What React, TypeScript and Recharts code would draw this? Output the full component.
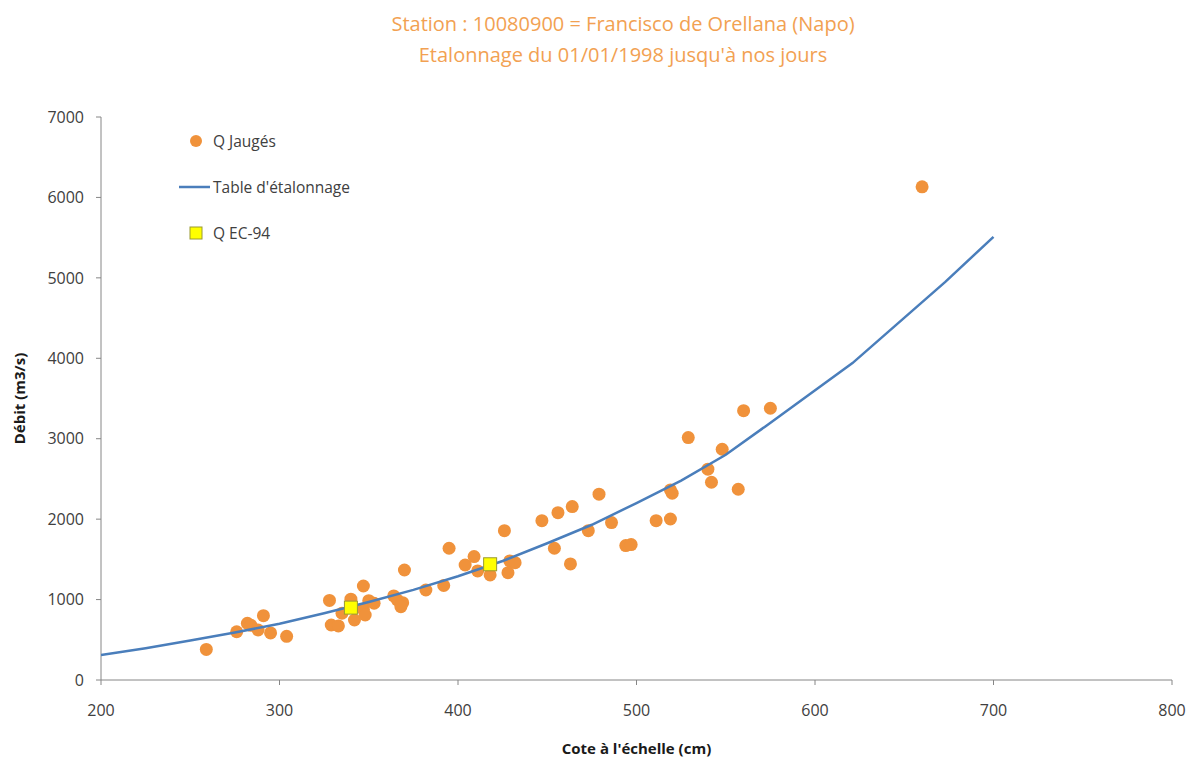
import React from "react";
import {
  ScatterChart,
  Scatter,
  XAxis,
  YAxis,
} from "recharts";

// Q jaugés : cote (cm) / débit (m3/s)
const gaugedCote = [
  259, 276, 282, 284, 288, 291, 295, 304, 328, 329, 333, 335, 340, 342, 347, 348,
  347, 350, 353, 364, 366, 369, 368, 370, 382, 392, 395, 404, 409, 411, 418, 426,
  429, 432, 428, 447, 456, 464, 454, 463, 473, 479, 486, 494, 497, 511, 519, 519,
  520, 529, 540, 542, 548, 557, 560, 575, 660,
];
const gaugedDebit = [
  380, 600, 705, 680, 622, 800, 585, 543, 990, 684, 672, 830, 1005, 746, 879, 808,
  1169, 986, 954, 1045, 995, 961, 912, 1368, 1119, 1175, 1638, 1430, 1534, 1356, 1306, 1857,
  1480, 1459, 1335, 1981, 2081, 2156, 1638, 1443, 1857, 2310, 1957, 1671, 1684, 1981, 2002, 2363,
  2322, 3014, 2621, 2459, 2869, 2372, 3349, 3379, 6132,
];

// Table d'étalonnage
const tableCote = [200, 225, 250, 275, 300, 325, 350, 375, 400, 425, 450, 475, 500, 525, 550, 572, 621, 673, 700];
const tableDebit = [310, 395, 490, 590, 700, 830, 970, 1120, 1290, 1480, 1700, 1930, 2200, 2480, 2800, 3150, 3940, 4950, 5510];

// Q EC-94
const ecCote = [340, 418];
const ecDebit = [900, 1439];

const xTicks = [200, 300, 400, 500, 600, 700, 800];
const yTicks = [0, 1000, 2000, 3000, 4000, 5000, 6000, 7000];

const gauged = gaugedCote.map((x, i) => ({ x, y: gaugedDebit[i] }));
const table = tableCote.map((x, i) => ({ x, y: tableDebit[i] }));
const ec94 = ecCote.map((x, i) => ({ x, y: ecDebit[i] }));

const FONT = "'Open Sans', sans-serif";
const ORANGE = "#F0923B";
const BLUE = "#4A7EBB";
const TEXT = "#404040";

const Square = (props: any) => {
  const { cx, cy } = props;
  if (cx == null || cy == null) return <g />;
  return (
    <rect x={cx - 6.5} y={cy - 6.5} width={13} height={13} fill="#FFFF00" stroke="#9A9A30" strokeWidth={1} />
  );
};

// legend drawn as an overlay so it does not shift the plot area
const LegendBox = () => (
  <div style={{ position: "absolute", left: 175, top: 118, fontFamily: FONT, fontSize: 15.5, color: TEXT }}>
    <div style={{ display: "flex", alignItems: "center", height: 46 }}>
      <svg width={38} height={14}>
        <circle cx={21} cy={7} r={6} fill={ORANGE} />
      </svg>
      <span>Q Jaugés</span>
    </div>
    <div style={{ display: "flex", alignItems: "center", height: 46 }}>
      <svg width={38} height={14}>
        <line x1={4} y1={7} x2={35} y2={7} stroke={BLUE} strokeWidth={2.5} />
      </svg>
      <span>Table d'étalonnage</span>
    </div>
    <div style={{ display: "flex", alignItems: "center", height: 46 }}>
      <svg width={38} height={14}>
        <rect x={15} y={1} width={12} height={12} fill="#FFFF00" stroke="#9A9A30" />
      </svg>
      <span>Q EC-94</span>
    </div>
  </div>
);

export default function App() {
  return (
    <div style={{ position: "absolute", left: 0, top: 0, width: 1189, height: 758, background: "#fff" }}>
      <div
        style={{
          position: "absolute",
          left: 0,
          width: 1246,
          top: 8,
          textAlign: "center",
          fontFamily: FONT,
          fontSize: 20,
          lineHeight: "31px",
          color: "#F2A152",
        }}
      >
        <div>Station : 10080900 = Francisco de Orellana (Napo)</div>
        <div>Etalonnage du 01/01/1998 jusqu'à nos jours</div>
      </div>
      <ScatterChart
        width={1189}
        height={758}
        margin={{ top: 117, right: 17, bottom: 4, left: 20 }}
        style={{ fontFamily: FONT }}
      >
        <XAxis
          type="number"
          dataKey="x"
          domain={[200, 800]}
          ticks={xTicks}
          allowDataOverflow
          height={74}
          stroke="#868686"
          tickSize={5}
          tickMargin={20}
          tick={{ fill: TEXT, fontSize: 16 }}
          label={{
            value: "Cote à l'échelle (cm)",
            position: "insideBottom",
            offset: 0,
            fill: "#1a1a1a",
            fontSize: 15,
            fontWeight: "bold",
          }}
        />
        <YAxis
          type="number"
          dataKey="y"
          domain={[0, 7000]}
          ticks={yTicks}
          allowDataOverflow
          width={81}
          stroke="#868686"
          tickSize={5}
          tickMargin={12}
          tick={{ fill: TEXT, fontSize: 16 }}
          label={{
            value: "Débit (m3/s)",
            angle: -90,
            position: "insideLeft",
            offset: 0,
            style: { textAnchor: "middle" },
            fill: "#1a1a1a",
            fontSize: 15,
            fontWeight: "bold",
          }}
        />
        <Scatter
          name="Q Jaugés"
          data={gauged}
          fill={ORANGE}
          shape={(p: any) => <circle cx={p.cx} cy={p.cy} r={6.5} fill={ORANGE} />}
          isAnimationActive={false}
        />
        <Scatter
          name="Table d'étalonnage"
          data={table}
          line={{ stroke: BLUE, strokeWidth: 2.5 }}
          lineType="joint"
          shape={() => <g />}
          isAnimationActive={false}
        />
        <Scatter name="Q EC-94" data={ec94} shape={Square} isAnimationActive={false} />
      </ScatterChart>
      <LegendBox />
    </div>
  );
}
